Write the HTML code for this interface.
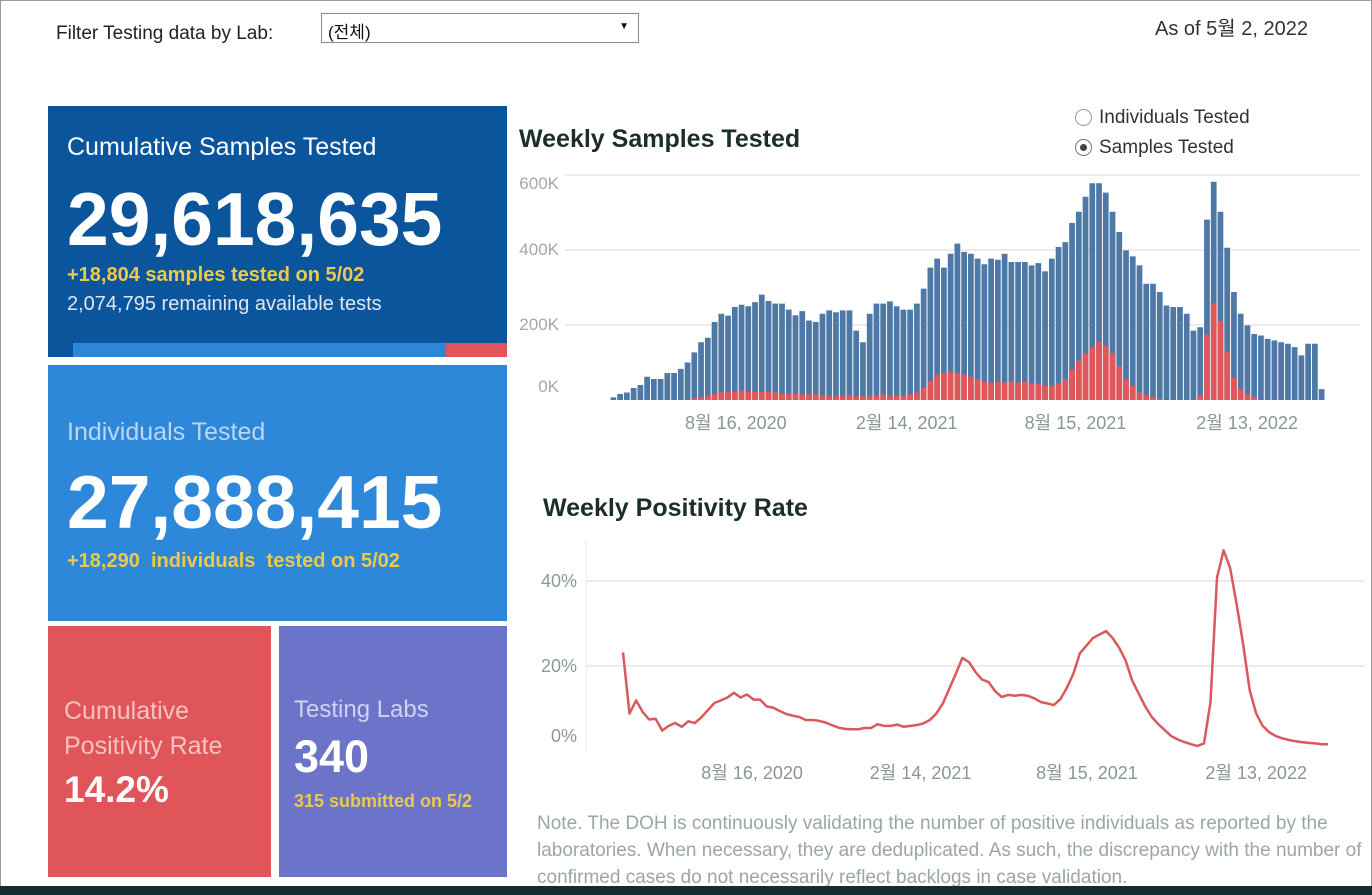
<!DOCTYPE html>
<html><head><meta charset="utf-8">
<style>
body{margin:0;width:1372px;height:895px;position:relative;overflow:hidden;background:#fff;font-family:"Liberation Sans","Noto Sans CJK KR",sans-serif;}
.abs{position:absolute;}
.card{position:absolute;color:#fff;}
</style></head><body>
<div class="abs" style="left:0;top:0;width:1370px;height:893px;border:1px solid #999;"></div>
<div class="abs" style="left:56px;top:23px;font-size:19px;color:#222;">Filter Testing data by Lab:</div>
<div class="abs" style="left:321px;top:13px;width:318px;height:30px;border:1px solid #888;box-sizing:border-box;font-size:17px;padding:4px 6px;color:#111;">(전체)<span style="position:absolute;right:9px;top:7px;font-size:10px;">▼</span></div>
<div class="abs" style="left:1155px;top:12px;font-size:20px;color:#333;">As of 5월 2, 2022</div>

<div class="card" style="left:48px;top:106px;width:459px;height:251px;background:#0b559c;">
  <div class="abs" style="left:19px;top:27px;font-size:25px;">Cumulative Samples Tested</div>
  <div class="abs" style="left:19px;top:70px;font-size:75px;font-weight:bold;">29,618,635</div>
  <div class="abs" style="left:19px;top:158px;font-size:20px;font-weight:bold;color:#ecc94b;">+18,804 samples tested on 5/02</div>
  <div class="abs" style="left:19px;top:187px;font-size:20px;color:#dfe7f2;">2,074,795 remaining available tests</div>
  <div class="abs" style="left:25px;top:237px;width:373px;height:14px;background:#2d87d8;"></div>
  <div class="abs" style="left:398px;top:237px;width:61px;height:14px;background:#e05559;"></div>
</div>
<div class="card" style="left:48px;top:365px;width:459px;height:256px;background:#2e88d9;">
  <div class="abs" style="left:19px;top:53px;font-size:25px;color:#bcd6f0;">Individuals Tested</div>
  <div class="abs" style="left:19px;top:94px;font-size:75px;font-weight:bold;">27,888,415</div>
  <div class="abs" style="left:19px;top:185px;font-size:20px;font-weight:bold;color:#ecc94b;">+18,290 &nbsp;individuals &nbsp;tested on 5/02</div>
</div>
<div class="card" style="left:48px;top:626px;width:223px;height:251px;background:#e05559;">
  <div class="abs" style="left:16px;top:68px;font-size:25px;line-height:35px;color:#f6c2c2;">Cumulative<br>Positivity Rate</div>
  <div class="abs" style="left:16px;top:143px;font-size:37px;font-weight:bold;">14.2%</div>
</div>
<div class="card" style="left:279px;top:626px;width:228px;height:251px;background:#6b74c8;">
  <div class="abs" style="left:15px;top:70px;font-size:24px;color:#cfd2f0;">Testing Labs</div>
  <div class="abs" style="left:15px;top:105px;font-size:45px;font-weight:bold;">340</div>
  <div class="abs" style="left:15px;top:165px;font-size:18px;font-weight:bold;color:#ecc94b;">315 submitted on 5/2</div>
</div>

<div class="abs" style="left:519px;top:125px;font-size:25px;font-weight:bold;color:#1b2e2b;">Weekly Samples Tested</div>
<div class="abs" style="left:1075px;top:107px;font-size:19px;color:#333;"><span style="display:inline-block;width:15px;height:15px;border:1px solid #999;border-radius:50%;vertical-align:-3px;margin-right:7px;"></span>Individuals Tested</div>
<div class="abs" style="left:1075px;top:137px;font-size:19px;color:#333;"><span style="display:inline-block;width:15px;height:15px;border:1px solid #777;border-radius:50%;vertical-align:-3px;margin-right:7px;position:relative;"><span style="position:absolute;left:4px;top:4px;width:7px;height:7px;border-radius:50%;background:#444;"></span></span>Samples Tested</div>
<div class="abs" style="left:543px;top:494px;font-size:25px;font-weight:bold;color:#1b2e2b;">Weekly Positivity Rate</div>
<div class="abs" style="left:537px;top:810px;width:834px;font-size:19px;line-height:27px;color:#9aa7a5;">Note. The DOH is continuously validating the number of positive individuals as reported by the laboratories. When necessary, they are deduplicated. As such, the discrepancy with the number of confirmed cases do not necessarily reflect backlogs in case validation.</div>
<div class="abs" style="left:0;top:886px;width:1372px;height:9px;background:#132e2e;"></div>

<svg class="abs" style="left:0;top:0" width="1372" height="895" id="charts"></svg>
<script>
const samplesK=[7,16,20,32,40,62,56,56,72,72,83,100,127,154,166,208,230,225,248,254,250,261,281,264,257,257,241,226,237,212,208,230,239,234,239,239,185,154,230,257,257,263,250,241,241,257,297,353,377,353,390,417,395,390,377,362,377,374,390,368,368,368,359,365,343,377,408,421,472,502,542,578,578,553,502,448,399,383,359,310,310,288,252,248,248,230,185,194,481,582,502,406,288,230,199,176,172,163,159,154,150,141,119,150,150,29];
const positiveK=[0,0,0,0,0,0,0,0,0,0,0,0,5,8,12,16,20,22,22,25,22,22,22,22,20,17,17,17,15,15,15,12,12,12,12,12,10,10,12,12,15,12,12,12,15,20,32,50,68,73,75,72,68,62,55,48,46,48,46,50,46,48,44,44,40,40,44,56,80,105,125,140,155,145,125,90,55,38,20,12,8,3,0,0,0,0,0,12,175,258,210,130,60,30,15,8,0,0,0,0,0,0,0,0,0,0];
const barTicks=[0,200,400,600];
const barTickLabels=["0K","200K","400K","600K"];
const dateLabels=["8월 16, 2020","2월 14, 2021","8월 15, 2021","2월 13, 2022"];
const dateFrac=[0.176,0.415,0.651,0.891];
const positivity=[23.2,8.8,11.9,9.2,7.4,7.6,4.8,5.9,6.6,5.7,7.0,6.6,7.9,9.6,11.3,11.9,12.6,13.7,12.6,13.3,12.1,12.1,10.5,10.2,9.4,8.7,8.3,8.0,7.3,7.3,7.1,6.7,6.1,5.5,5.2,5.1,5.1,5.4,5.4,6.3,5.9,5.9,6.2,5.7,5.9,6.1,6.5,7.3,8.8,11.2,14.7,18.2,21.9,20.9,18.6,16.8,16.2,14.1,12.7,13.2,13.0,13.2,13.0,12.4,11.5,11.2,10.8,12.2,14.9,18.2,23.0,24.8,26.6,27.4,28.2,26.6,24.3,21.3,16.6,13.5,10.5,8.0,6.3,4.9,3.5,2.7,2.1,1.6,1.2,1.8,11.5,40.8,47.2,43.1,34.6,25.2,14.3,8.8,5.9,4.4,3.5,3.0,2.6,2.3,2.1,1.9,1.8,1.6,1.6];
const pctTicks=[0,20,40];
const pctTickLabels=["0%","20%","40%"];

const svg=document.getElementById('charts');
const NS='http://www.w3.org/2000/svg';
function mk(tag,attrs,parent){const e=document.createElementNS(NS,tag);for(const k in attrs)e.setAttribute(k,attrs[k]);(parent||svg).appendChild(e);return e;}

const bx0=610,bx1=1325,by0=400,byPerK=75/200;
const by=v=>by0-v*byPerK;
const bw=(bx1-bx0)/samplesK.length;
const bxAt=i=>bx0+i*bw;
barTicks.forEach((t,i)=>{
  if(t>0){const g=mk('line',{x1:565,x2:1360,y1:by(t),y2:by(t),stroke:'#e6e6e6','stroke-width':1.5});
  
  }
  const yy=t===0?by(t)-8:(i===barTicks.length-1?by(t)+14:by(t)+5);
  const tx=mk('text',{x:559,y:yy,'text-anchor':'end','font-size':17,fill:'#a0aaa8','font-family':'Liberation Sans, sans-serif'});
  tx.textContent=barTickLabels[i];
  
  
});
samplesK.forEach((v,i)=>{
  const r=mk('rect',{x:bxAt(i)+0.5,y:by(v),width:bw-1,height:v*byPerK,fill:'#4e79a7'});
  
  
  const p=positiveK[i];
  if(p>0){const r2=mk('rect',{x:bxAt(i)+0.5,y:by(p),width:bw-1,height:p*byPerK,fill:'#e15759'});
  
  }
});
dateLabels.forEach((d,i)=>{
  const t=mk('text',{x:bx0+dateFrac[i]*(bx1-bx0),y:429,'text-anchor':'middle','font-size':18,fill:'#8a9694','font-family':'Liberation Sans, Noto Sans CJK KR, sans-serif'});
  t.textContent=d;
  
  
});

const lx0=623,lx1=1328,ly0=751,lyPer=85/20;
const ly=v=>ly0-v*lyPer;
const lxAt=i=>lx0+i*(lx1-lx0)/(positivity.length-1);
const axis=mk('line',{x1:586,x2:586,y1:540,y2:752,stroke:'#eee','stroke-width':1});


pctTicks.forEach((t,i)=>{
  if(t>0){const g=mk('line',{x1:586,x2:1365,y1:ly(t),y2:ly(t),stroke:'#e6e6e6','stroke-width':1.5});
  
  }
  const tx=mk('text',{x:577,y:t===0?ly(t)-9:ly(t)+6,'text-anchor':'end','font-size':18,fill:'#8a9a9a','font-family':'Liberation Sans, sans-serif'});
  tx.textContent=pctTickLabels[i];
  
  
});
const pl=mk('polyline',{points:positivity.map((v,i)=>lxAt(i).toFixed(1)+','+ly(v).toFixed(1)).join(' '),fill:'none',stroke:'#d9595c','stroke-width':2.5,'stroke-linejoin':'round'});


dateLabels.forEach((d,i)=>{
  const t=mk('text',{x:lx0+dateFrac[i]*(lx1-lx0)+5,y:779,'text-anchor':'middle','font-size':18,fill:'#8a9694','font-family':'Liberation Sans, Noto Sans CJK KR, sans-serif'});
  t.textContent=d;
  
  
});
</script>
</body></html>
